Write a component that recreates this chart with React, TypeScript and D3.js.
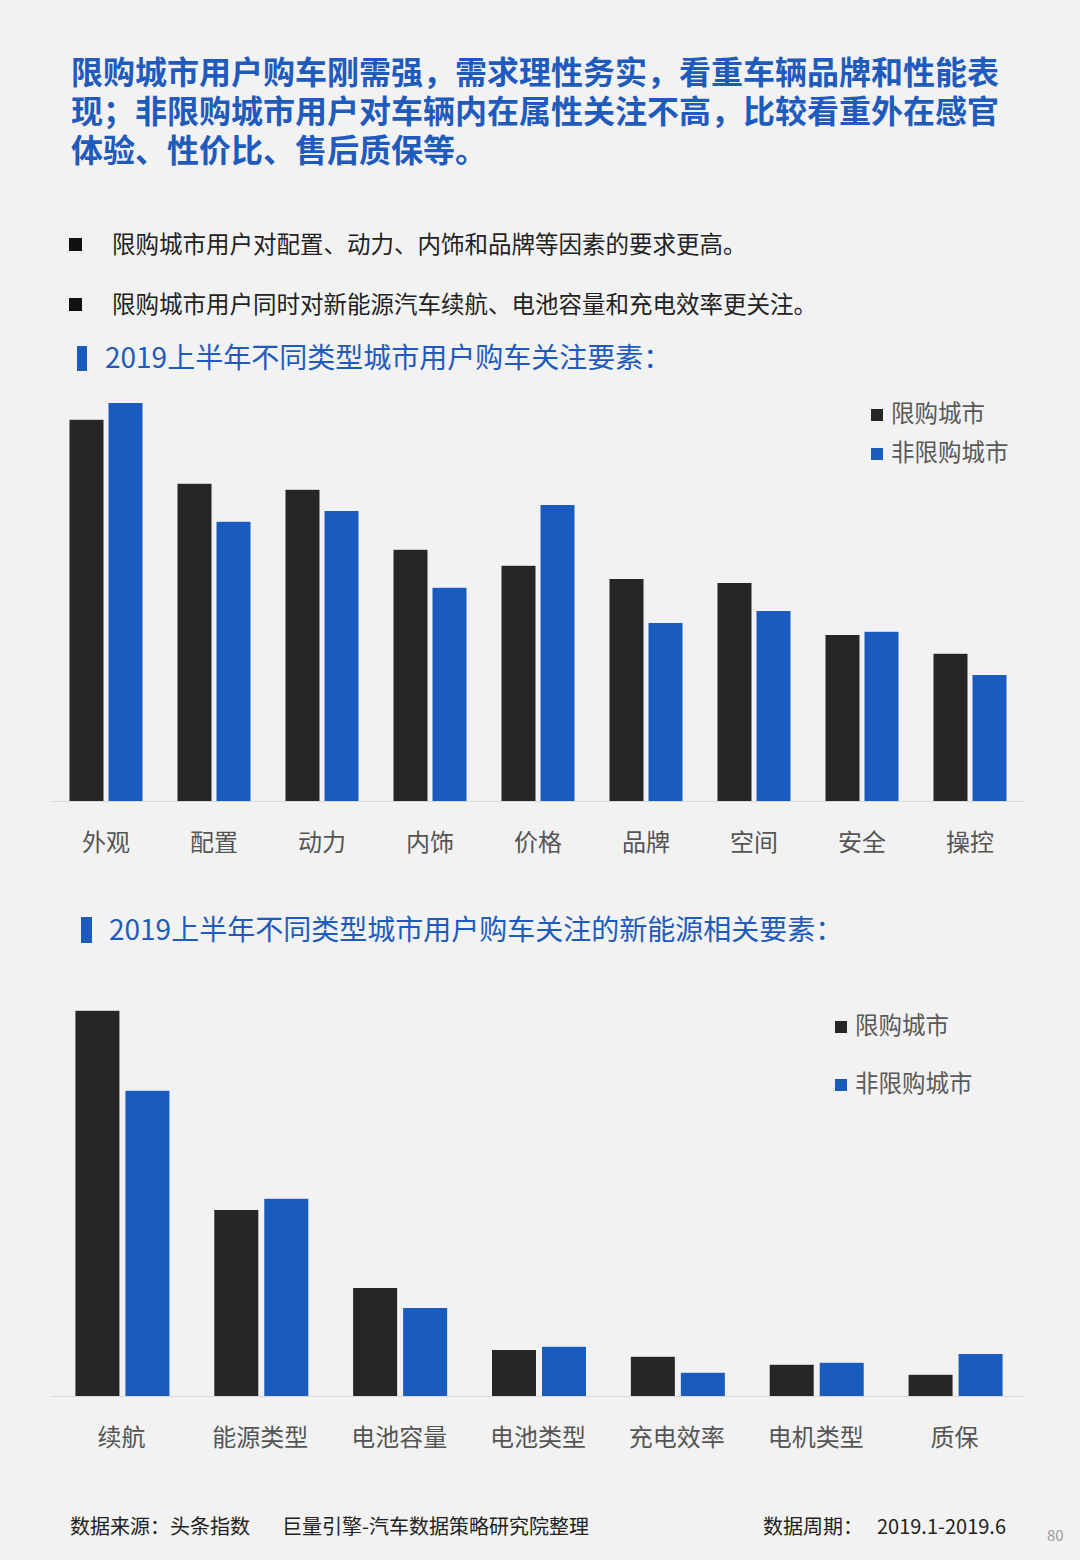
import React from 'react';
import * as d3 from 'd3';

const W = 1080;
const H = 1560;

// chart 1: purchase concern factors (relative heights)
const factors = ['外观', '配置', '动力', '内饰', '价格', '品牌', '空间', '安全', '操控'];
const factorsLimited = [95.3, 79.3, 77.8, 62.8, 58.8, 55.5, 54.5, 41.5, 36.8];
const factorsOpen = [99.5, 69.8, 72.5, 53.3, 74.0, 44.5, 47.5, 42.3, 31.5];

// chart 2: new-energy related factors
const nevFactors = ['续航', '能源类型', '电池容量', '电池类型', '充电效率', '电机类型', '质保'];
const nevLimited = [96.3, 46.5, 27.0, 11.5, 9.8, 7.8, 5.3];
const nevOpen = [76.3, 49.3, 22.0, 12.3, 5.8, 8.3, 10.5];

const seriesNames = ['限购城市', '非限购城市'];

const headline = [
  '限购城市用户购车刚需强，需求理性务实，看重车辆品牌和性能表',
  '现；非限购城市用户对车辆内在属性关注不高，比较看重外在感官',
  '体验、性价比、售后质保等。',
];
const bullets = [
  '限购城市用户对配置、动力、内饰和品牌等因素的要求更高。',
  '限购城市用户同时对新能源汽车续航、电池容量和充电效率更关注。',
];

const FONT = '"Noto Sans CJK SC", "Noto Sans", sans-serif';
const DARK = '#262626';
const BLUE = '#1a5bbe';
const TITLE_BLUE = '#1f5bbd';

interface BarChartProps {
  cats: string[];
  a: number[];
  b: number[];
  baseline: number;
  barW: number;
  gap: number;
  offset: number;
  labelY: number;
  legendX: number;
  legendY: number[];
  legendSize: number;
}

const BarChart: React.FC<BarChartProps> = ({ cats, a, b, baseline, barW, gap, offset, labelY, legendX, legendY, legendSize }) => {
  const x = d3.scaleBand<string>().domain(cats).range([52, 1024]).padding(0);
  const y = d3.scaleLinear().domain([0, 100]).range([baseline, baseline - 400]);
  const cx = (c: string) => x(c)! + x.bandwidth() / 2;
  return (
    <g>
      {cats.map((c, i) => (
        <g key={c}>
          <rect x={cx(c) + offset - barW - gap / 2} y={y(a[i])} width={barW} height={baseline - y(a[i])} fill={DARK} />
          <rect x={cx(c) + offset + gap / 2} y={y(b[i])} width={barW} height={baseline - y(b[i])} fill={BLUE} />
          <text x={cx(c)} y={labelY} textAnchor="middle" fontSize={24} fill="#555" fontFamily={FONT}>{c}</text>
        </g>
      ))}
      <line x1={52} x2={1024} y1={baseline + 0.5} y2={baseline + 0.5} stroke="#d9d9d9" strokeWidth={1} />
      {seriesNames.map((s, i) => (
        <g key={s}>
          <rect x={legendX} y={legendY[i] - 13} width={12} height={12} fill={i === 0 ? DARK : BLUE} />
          <text x={legendX + 20} y={legendY[i]} fontSize={legendSize} fill="#595959" fontFamily={FONT}>{s}</text>
        </g>
      ))}
    </g>
  );
};

export default function App() {
  return (
    <div style={{ position: 'absolute', left: 0, top: 0 }}>
      <svg width={W} height={H} style={{ display: 'block', background: '#f2f2f2' }}>
        <rect width={W} height={H} fill="#f2f2f2" />
        {headline.map((t, i) => (
          <text key={i} x={71} y={84 + i * 39} fontSize={32} fontWeight={700} fill={TITLE_BLUE} fontFamily={FONT}>{t}</text>
        ))}
        {bullets.map((t, i) => (
          <g key={i}>
            <rect x={69} y={238 + i * 60} width={13} height={13} fill="#111" />
            <text x={112} y={253 + i * 60} fontSize={23.5} fill="#222" fontFamily={FONT}>{t}</text>
          </g>
        ))}

        <rect x={77} y={346} width={10} height={25} fill={BLUE} />
        <text x={105} y={368} fontSize={28} fill={TITLE_BLUE} fontFamily={FONT}>2019上半年不同类型城市用户购车关注要素：</text>
        <BarChart cats={factors} a={factorsLimited} b={factorsOpen} baseline={801} barW={34} gap={5} offset={0}
          labelY={851} legendX={871} legendY={[422, 461]} legendSize={23.5} />

        <rect x={81} y={917} width={11} height={26} fill={BLUE} />
        <text x={109} y={940} fontSize={28} fill={TITLE_BLUE} fontFamily={FONT}>2019上半年不同类型城市用户购车关注的新能源相关要素：</text>
        <BarChart cats={nevFactors} a={nevLimited} b={nevOpen} baseline={1396} barW={44} gap={6} offset={1}
          labelY={1446} legendX={835} legendY={[1034, 1092]} legendSize={23.5} />

        <text x={70} y={1534} fontSize={20} fill="#222" fontFamily={FONT}>数据来源：头条指数</text>
        <text x={282} y={1534} fontSize={20} fill="#222" fontFamily={FONT}>巨量引擎-汽车数据策略研究院整理</text>
        <text x={763} y={1534} fontSize={20} fill="#222" fontFamily={FONT}>数据周期：</text>
        <text x={1006} y={1534} fontSize={20} fill="#222" textAnchor="end" fontFamily={FONT}>2019.1-2019.6</text>
        <text x={1047} y={1541} fontSize={15} fill="#999" fontFamily={FONT}>80</text>
      </svg>
    </div>
  );
}
